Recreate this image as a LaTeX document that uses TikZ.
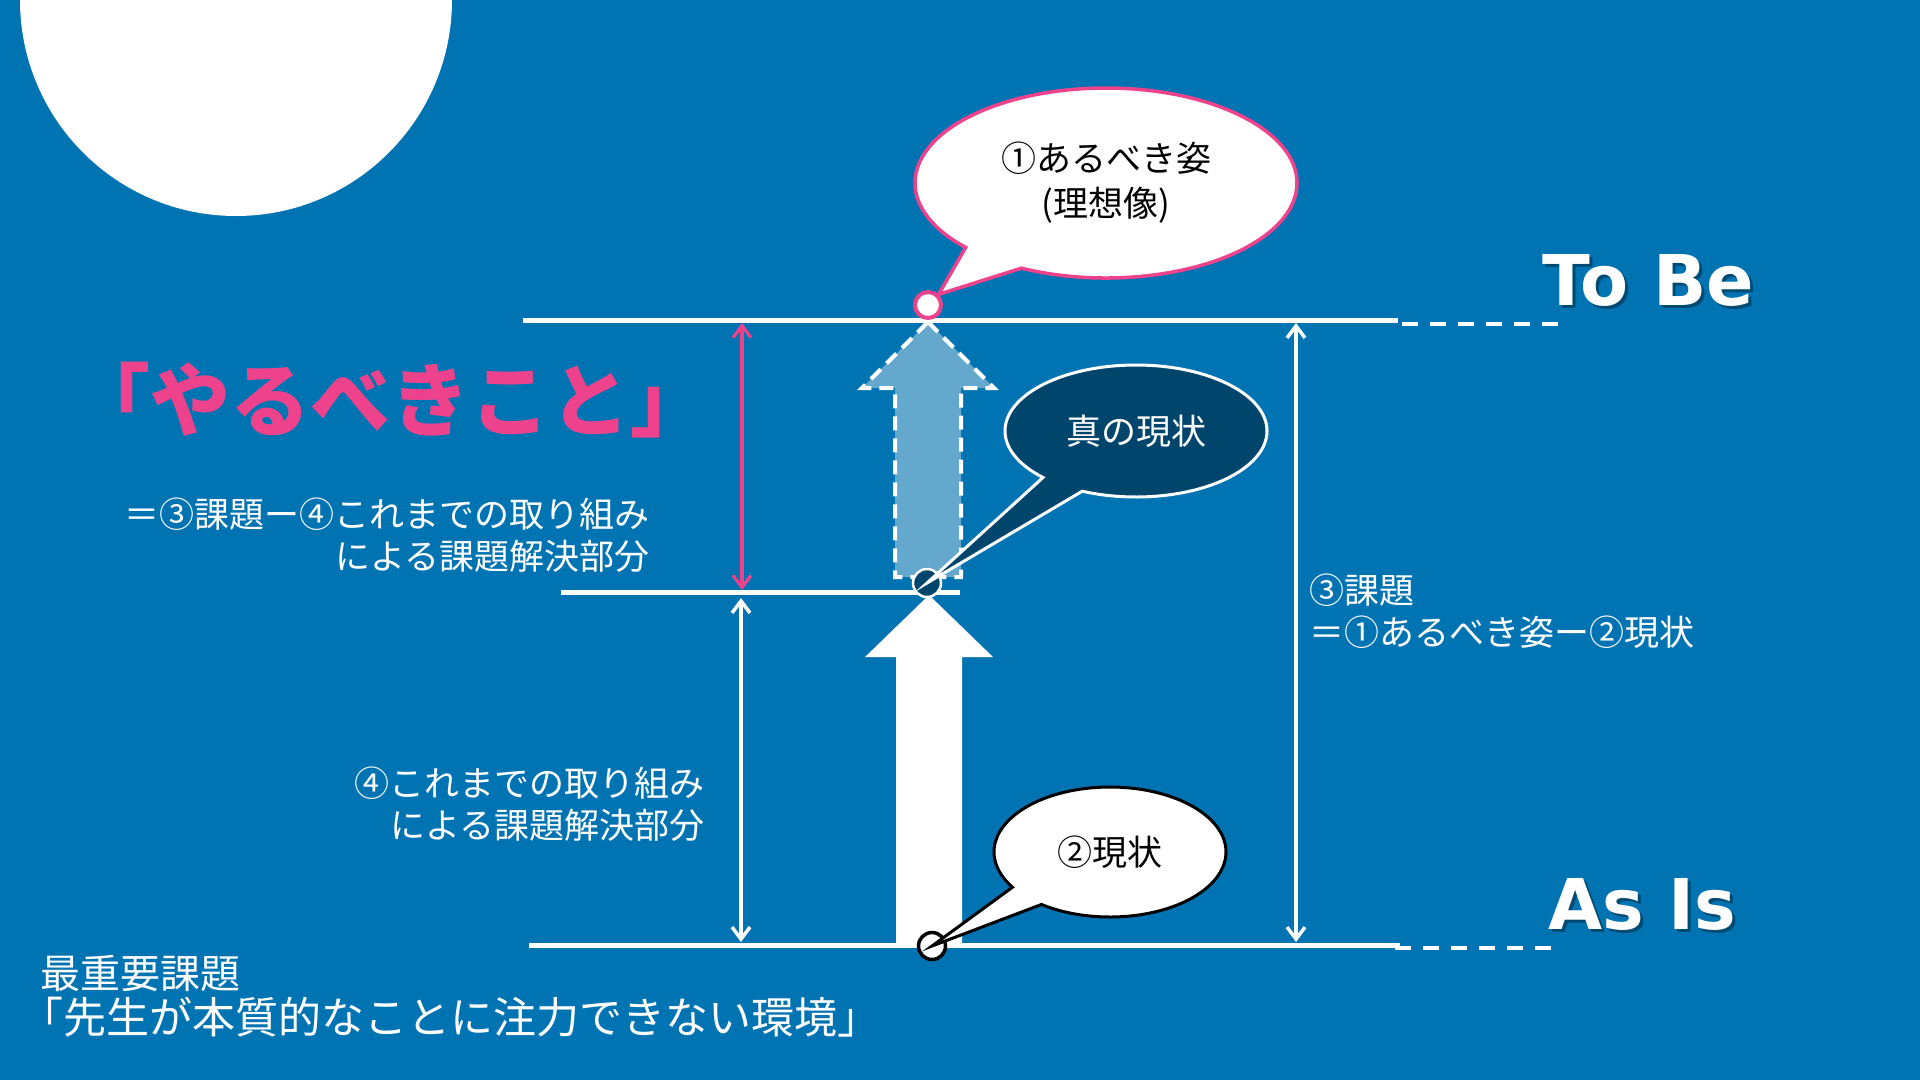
\documentclass[tikz,border=0pt]{standalone}
\usepackage{fontspec}
\setmainfont{Noto Sans CJK JP}
\newfontfamily\latinfont{DejaVu Sans}
\usetikzlibrary{shapes.geometric, shapes.callouts, arrows.meta, positioning, calc}
\definecolor{bgblue}{RGB}{0,116,178}
\definecolor{hlpink}{RGB}{238,66,140}
\definecolor{deepnavy}{RGB}{0,70,108}
\definecolor{paleblue}{RGB}{100,168,205}

\begin{document}
\begin{tikzpicture}[x=1pt, y=-1pt,
  bubble/.style={ellipse callout, draw=#1, line width=3.5pt, inner sep=0pt, callout pointer arc=21, align=center, font=\fontsize{35}{45}\selectfont},
  level/.style={white, line width=5pt},
  levelext/.style={white, line width=4.5pt, dash pattern=on 16pt off 12pt},
  dim/.style={{Straight Barb[length=12pt,width=18pt]}-{Straight Barb[length=12pt,width=18pt]}, line width=3.5pt, #1},
  dim/.default=white,
  note/.style={text=white, inner sep=0pt, font=\fontsize{35}{42}\selectfont},
  tag/.style={text=white, inner sep=0pt, font=\latinfont\bfseries\fontsize{70}{70}\selectfont},
  tagshadow/.style={text=black, opacity=0.35, inner sep=0pt, font=\latinfont\bfseries\fontsize{70}{70}\selectfont},
  dot/.style={circle, minimum size=#1, inner sep=0pt},
]
  \fill[bgblue] (0,0) rectangle (1920,1080);
  \useasboundingbox (0,0) rectangle (1920,1080);
  \clip (0,0) rectangle (1920,1080);

  % Decoration
  \fill[white] (236,0) circle (216);

  % Levels
  \coordinate (tobeL) at (523,320);
  \coordinate (tobeR) at (1398,320);
  \coordinate (midL) at (561,592);
  \coordinate (midR) at (960,592);
  \coordinate (asisL) at (529,945);
  \coordinate (asisR) at (1400,945);

  % Block arrows
  \filldraw[fill=paleblue, draw=white, line width=4pt, dash pattern=on 14pt off 8pt] (928,322) -- (994,388) -- (961,388) -- (961,577) -- (895,577) -- (895,388) -- (862,388) -- cycle;
  \fill[white] (929,595) -- (993,657) -- (962,657) -- (962,945) -- (896,945) -- (896,657) -- (865,657) -- cycle;

  \draw[level] (tobeL) -- (tobeR);
  \draw[levelext] (1402,324) -- (1560,324);
  \draw[level] (midL) -- (midR);
  \draw[level] (asisL) -- (asisR);
  \draw[levelext] (1395,948) -- (1553,948);

  % Dimensions
  \coordinate (pinkTop) at (742,323);
  \coordinate (pinkBot) at (742,590);
  \coordinate (doneTop) at (741,598);
  \coordinate (doneBot) at (741,942);
  \coordinate (gapTop) at (1296,323);
  \coordinate (gapBot) at (1296,942);
  \draw[dim=hlpink, line width=3.2pt] (pinkTop) -- (pinkBot);
  \draw[dim] (doneTop) -- (doneBot);
  \draw[dim] (gapTop) -- (gapBot);

  % Markers
  \node[dot=26pt, fill=white, draw=hlpink, line width=4pt] (ring) at (928,305) {};
  \node[dot=28pt, fill=deepnavy, draw=white, line width=2.5pt] (truedot) at (927,583) {};
  \node[dot=27pt, fill=white, draw=black, line width=3.5pt] (nowdot) at (932,946) {};

  % Callouts
  \node[bubble=hlpink, fill=white, minimum width=382pt, minimum height=190pt, callout absolute pointer={(ring.north east)}] (ideal) at (1106,183) {①あるべき姿\\(理想像)};
  \node[bubble=white, fill=deepnavy, text=white, line width=3pt, minimum width=262pt, minimum height=132pt, callout absolute pointer={(truedot.center)}] (truenow) at (1136,431) {真の現状};
  \node[bubble=black, fill=white, line width=3pt, minimum width=232pt, minimum height=130pt, callout absolute pointer={(nowdot.center)}] (now) at (1110,852) {②現状};

  % Labels
  \node[anchor=west, text=hlpink, inner sep=0pt, font=\bfseries\fontsize{80}{80}\selectfont] (todo) at (70,400) {「やるべきこと」};
  \node[note, anchor=east, align=right] (todonote) at (650,535) {＝③課題ー④これまでの取り組み\\による課題解決部分};
  \node[note, anchor=east, align=right] (donenote) at (705,804) {④これまでの取り組み\\による課題解決部分};
  \node[note, anchor=west, align=left] (gapnote) at (1309,611) {③課題\\＝①あるべき姿ー②現状};
  \node[anchor=west, text=white, inner sep=0pt, font=\fontsize{40}{40}\selectfont] (topissue) at (40,973) {最重要課題};
  \node[anchor=west, text=white, inner sep=0pt, font=\fontsize{43}{43}\selectfont] (issue) at (20,1017) {「先生が本質的なことに注力できない環境」};

  % To Be / As Is
  \node[tagshadow, anchor=base] at (1651,308) {To Be};
  \node[tag, anchor=base] (tobe) at (1648,305) {To Be};
  \node[tagshadow, anchor=base] at (1645,932) {As Is};
  \node[tag, anchor=base] (asis) at (1642,929) {As Is};
\end{tikzpicture}
\end{document}
